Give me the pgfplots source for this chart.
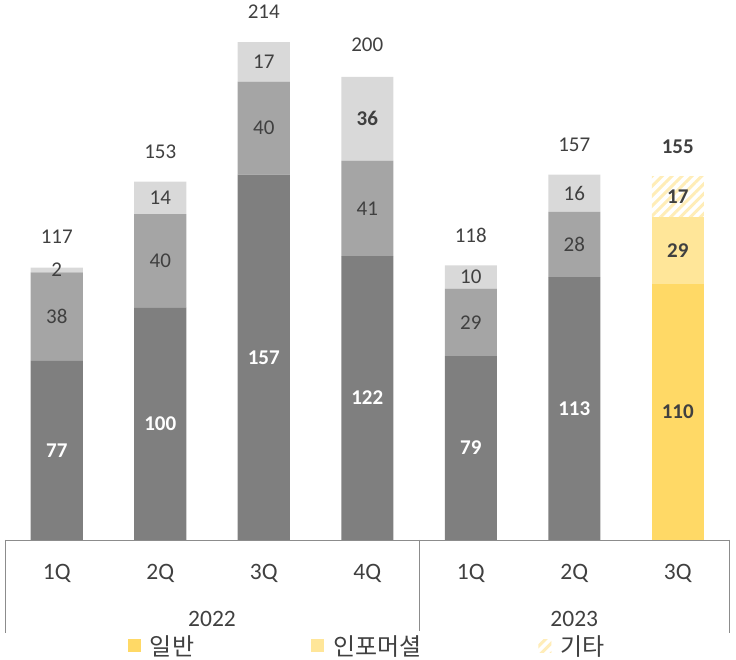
\documentclass[border=0pt]{standalone}
\usepackage{pgfplots}
\pgfplotsset{compat=1.18}
\usepackage{pgfplotstable}
\usepackage{fontspec}
\setmainfont{Carlito}
\newfontfamily\cjk{Noto Sans CJK KR}
\usetikzlibrary{patterns.meta}
\definecolor{dg}{HTML}{7F7F7F}
\definecolor{mg}{HTML}{A5A5A5}
\definecolor{lg}{HTML}{D9D9D9}
\definecolor{ya}{HTML}{FFD966}
\definecolor{yb}{HTML}{FFE699}
\definecolor{yc}{HTML}{FFEDB8}
\definecolor{txt}{HTML}{404040}
\definecolor{axc}{HTML}{8C8C8C}

\pgfplotstableread{
x a b c
0 77 38 2
1 100 40 14
2 157 40 17
3 122 41 36
4 79 29 10
5 113 28 16
6 0 0 0
}\grays
\pgfplotstableread{
x a b c
0 0 0 0
1 0 0 0
2 0 0 0
3 0 0 0
4 0 0 0
5 0 0 0
6 110 29 17
}\yel
\pgfplotstableread{
x y lab
0 38.5 77
1 50 100
2 78.5 157
3 61 122
4 39.5 79
5 56.5 113
}\labwhite
\pgfplotstableread{
x y lab
0 96 38
1 120 40
2 177 40
3 142.5 41
4 93.5 29
5 127 28
0 116 2
1 147 14
2 205.5 17
4 113 10
5 149 16
0 130.5 117
1 167 153
2 227 214
3 213 200
4 131 118
5 170 157
}\labdark
\pgfplotstableread{
x y lab
3 181 36
6 55 110
6 124.5 29
6 147.5 17
6 169 155
}\labbold

\newcommand{\fs}{\fontsize{21}{25}\selectfont}
\newcommand{\fa}{\fontsize{23.5}{28}\selectfont}
\pgfplotsset{
  sq/.style={legend image code/.code={\path[##1,draw=none] (0pt,-6.5pt) rectangle (13pt,6.5pt);}},
  common/.style={at={(5pt,120pt)}, anchor=south west, scale only axis,
    width=724.5pt, height=540pt, xmin=-0.5, xmax=6.5, ymin=0, ymax=232.06, clip=false},
}

\begin{document}
\begin{tikzpicture}
\path[use as bounding box] (0,0) rectangle (736pt,660pt);
\begin{axis}[common,
  ybar stacked, bar width=52pt,
  axis x line*=bottom, axis y line=none,
  x axis line style={axc, line width=0.8pt},
  xtick={0,...,6}, xticklabels={1Q,2Q,3Q,4Q,1Q,2Q,3Q},
  major tick length=0pt,
  xticklabel style={font=\fa, text=txt, anchor=base, yshift=-40pt},
  legend style={at={(0.5,0)}, anchor=center, yshift=-106pt, draw=none,
    font=\cjk\fontsize{24}{28}\selectfont, text=txt, legend columns=3,
    /tikz/every even column/.append style={column sep=115pt},
    /tikz/every odd column/.append style={column sep=7pt}},
]
\addplot[fill=dg, draw=none, forget plot] table[x=x,y=a]{\grays};
\addplot[fill=mg, draw=none, forget plot] table[x=x,y=b]{\grays};
\addplot[fill=lg, draw=none, forget plot] table[x=x,y=c]{\grays};
\addplot[fill=ya, draw=none, sq] table[x=x,y=a]{\yel};
\addplot[fill=yb, draw=none, sq] table[x=x,y=b]{\yel};
\addplot[fill=white, draw=none, pattern={Lines[angle=45,distance=7pt,line width=3pt]}, pattern color=yc, sq] table[x=x,y=c]{\yel};
\legend{일반,인포머셜,기타}
\draw[axc, line width=0.8pt] (axis cs:-0.5,0) -- ([yshift=-93pt]axis cs:-0.5,0);
\draw[axc, line width=0.8pt] (axis cs:3.5,0) -- ([yshift=-93pt]axis cs:3.5,0);
\draw[axc, line width=0.8pt] (axis cs:6.5,0) -- ([yshift=-93pt]axis cs:6.5,0);
\node[font=\fa, text=txt, anchor=base, yshift=-87pt] at (axis cs:1.5,0) {2022};
\node[font=\fa, text=txt, anchor=base, yshift=-87pt] at (axis cs:5,0) {2023};
\end{axis}
\begin{axis}[common, hide axis]
\addplot[draw=none, nodes near coords, point meta=explicit symbolic,
  nodes near coords style={anchor=center, font=\fs\bfseries, text=white}]
  table[x=x,y=y,meta=lab]{\labwhite};
\addplot[draw=none, nodes near coords, point meta=explicit symbolic,
  nodes near coords style={anchor=center, font=\fs, text=txt}]
  table[x=x,y=y,meta=lab]{\labdark};
\addplot[draw=none, nodes near coords, point meta=explicit symbolic,
  nodes near coords style={anchor=center, font=\fs\bfseries, text=txt}]
  table[x=x,y=y,meta=lab]{\labbold};
\end{axis}
\end{tikzpicture}
\end{document}
